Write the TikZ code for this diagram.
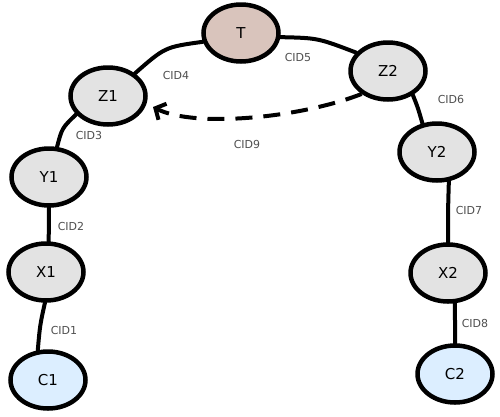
\documentclass[tikz,border=0pt]{standalone}
\usepackage{fontspec}
\setmainfont{DejaVu Sans}
\usetikzlibrary{shapes.geometric,arrows.meta}
\definecolor{nodegray}{RGB}{227,227,227}
\definecolor{tcol}{RGB}{217,196,188}
\definecolor{ccol}{RGB}{220,238,255}
\definecolor{labcol}{RGB}{80,80,80}
\tikzset{
  vtx/.style={ellipse, draw=black, line width=4.5pt, minimum width=75pt, minimum height=57pt, inner sep=0pt, font=\fontsize{15}{17}\selectfont, fill=nodegray},
  tvtx/.style={vtx, fill=tcol},
  cvtx/.style={vtx, fill=ccol},
  conn/.style={line width=4pt, line cap=round},
  dconn/.style={line width=4pt, dash pattern=on 17pt off 11pt, -{Straight Barb[length=8pt,width=18pt,line width=4pt]}},
  cid/.style={text=labcol, font=\fontsize{11}{13}\selectfont, inner sep=0pt}
}
\begin{document}
\begin{tikzpicture}[x=1pt,y=-1pt]
\fill[white] (0,0) rectangle (500,416);
\useasboundingbox (0,0) rectangle (500,416);
\node[tvtx] (T) at (241,33) {T};
\node[vtx] (Z1) at (108,96) {Z1};
\node[vtx] (Z2) at (388,71) {Z2};
\node[vtx] (Y1) at (49,177) {Y1};
\node[vtx] (X1) at (46,272) {X1};
\node[cvtx] (C1) at (48,380) {C1};
\node[vtx] (Y2) at (437,152) {Y2};
\node[vtx] (X2) at (448,273) {X2};
\node[cvtx] (C2) at (455,374) {C2};
\draw[conn] (T.193) .. controls (165,47) .. (Z1.40);
\draw[conn] (T.354) .. controls (318,38) .. (Z2.150);
\draw[conn] (Z1.210) .. controls (62,128) .. (Y1.75);
\draw[conn] (Y1.south) -- (X1.85);
\draw[conn] (X1.268) .. controls (40,325) .. (C1.109);
\draw[conn] (Z2.316) .. controls (418,108) .. (Y2.117);
\draw[conn] (Y2.292) .. controls (448,210) .. (X2.90);
\draw[conn] (X2.283) -- (C2.90);
\draw[dconn] (Z2.221) .. controls (300,118) and (195,128) .. (153,107);
\node[cid] (l4) at (176,75) {CID4};
\node[cid] (l5) at (298,57) {CID5};
\node[cid] (l3) at (89,135) {CID3};
\node[cid] (l9) at (247,144) {CID9};
\node[cid] (l6) at (451,99) {CID6};
\node[cid] (l2) at (71,226) {CID2};
\node[cid] (l7) at (469,210) {CID7};
\node[cid] (l1) at (64,330) {CID1};
\node[cid] (l8) at (475,323) {CID8};
\end{tikzpicture}
\end{document}
